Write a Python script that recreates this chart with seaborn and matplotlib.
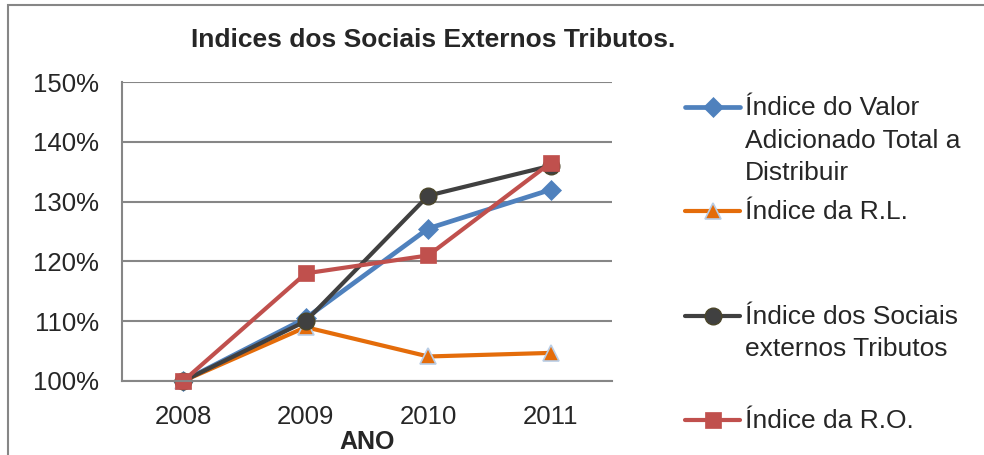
import matplotlib
matplotlib.use("Agg")
import matplotlib.pyplot as plt
import matplotlib.ticker as mticker
from matplotlib.lines import Line2D
from matplotlib.patches import Rectangle
import seaborn as sns
import pandas as pd

# Dados (índices, base 2008 = 100%)
anos = [2008, 2009, 2010, 2011]
valor_adicionado = [1.00, 1.105, 1.255, 1.32]
receita_liquida = [1.00, 1.09, 1.041, 1.047]
sociais_tributos = [1.00, 1.10, 1.31, 1.36]
receita_operacional = [1.00, 1.18, 1.21, 1.365]

rotulos = ["Índice do Valor\nAdicionado Total a\nDistribuir",
           "Índice da R.L.",
           "Índice dos Sociais\nexternos Tributos",
           "Índice da R.O."]
series = [valor_adicionado, receita_liquida, sociais_tributos, receita_operacional]

estilos = [
    dict(color="#4F81BD", marker="D", markersize=10, mec="#4F81BD", lw=3.4),
    dict(color="#E46C0A", marker="^", markersize=12, mec="#B9CDE5", mew=1.2, lw=3.0),
    dict(color="#404040", marker="o", markersize=12, mec="#4A452A", mew=1.0, lw=3.0),
    dict(color="#C0504D", marker="s", markersize=11, mec="#C0504D", lw=3.0),
]

sns.set_style("white")
plt.rcParams["font.family"] = ["Liberation Sans", "DejaVu Sans"]

fig = plt.figure(figsize=(9.84, 4.55), dpi=100)
ax = fig.add_axes([122 / 984, 1 - 381 / 455, 490 / 984, 299 / 455])

for valores, est in zip(series, estilos):
    df = pd.DataFrame({"ano": anos, "indice": valores})
    sns.lineplot(data=df, x="ano", y="indice", ax=ax, color=est["color"], lw=est["lw"],
                 marker=est["marker"], markersize=est["markersize"],
                 markeredgecolor=est["mec"], markeredgewidth=est.get("mew", 0.5),
                 clip_on=False)

grid_cor = "#868686"
ax.set_ylim(1.0, 1.5)
ax.set_xlim(anos[0] - 0.5, anos[-1] + 0.5)
ax.yaxis.set_major_locator(mticker.MultipleLocator(0.1))
ax.yaxis.set_major_formatter(mticker.PercentFormatter(1.0, decimals=0))
ax.set_xticks(anos)
ax.set_xticks([a - 0.5 for a in anos] + [anos[-1] + 0.5], minor=True)
ax.tick_params(axis="x", which="major", length=0, labelsize=18.5, pad=17)
ax.tick_params(axis="x", which="minor", length=6, width=1.5, color=grid_cor)
ax.tick_params(axis="y", which="major", length=3.5, width=1.5, color=grid_cor,
               labelsize=18.5, pad=13)
ax.grid(axis="y", color=grid_cor, lw=1.5)
ax.set_axisbelow(True)
for lado in ["top", "right"]:
    ax.spines[lado].set_visible(False)
for lado in ["left", "bottom"]:
    ax.spines[lado].set_color(grid_cor)
    ax.spines[lado].set_linewidth(1.5)
ax.set_ylabel("")
ax.set_xlabel("ANO", fontsize=18, fontweight="bold")
ax.xaxis.set_label_coords(0.5, -0.165)

fig.text(433 / 984, 1 - 40 / 455, "Indices dos Sociais Externos Tributos.",
         ha="center", va="center", fontsize=19, fontweight="bold")

# Legenda
for i, (rot, est) in enumerate(zip(rotulos, estilos)):
    y = 1 - (107 + 104.3 * i) / 455
    fig.add_artist(Line2D([685 / 984, 740 / 984], [y, y], transform=fig.transFigure,
                          color=est["color"], lw=est["lw"], solid_capstyle="round"))
    fig.add_artist(Line2D([712.5 / 984], [y], transform=fig.transFigure,
                          color=est["color"], marker=est["marker"],
                          markersize=est["markersize"], markeredgecolor=est["mec"],
                          markeredgewidth=est.get("mew", 0.5)))
    fig.text(745 / 984, y + 11 / 455, rot, ha="left", va="top", fontsize=19,
             linespacing=1.45)

fig.add_artist(Rectangle((8 / 984, -0.1), 1.2, 1.1 - 5 / 455, transform=fig.transFigure,
                         fill=False, edgecolor=grid_cor, lw=1.5))

fig.savefig("out.png", dpi=100)
